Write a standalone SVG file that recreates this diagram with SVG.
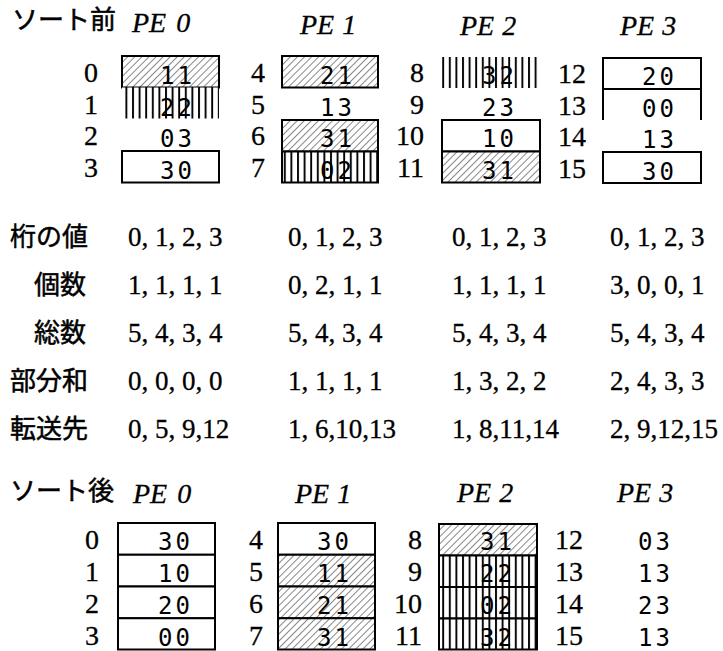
<svg xmlns="http://www.w3.org/2000/svg" width="723" height="651" viewBox="0 0 723 651">
<defs>
<pattern id="diag" width="5" height="5" patternUnits="userSpaceOnUse" patternTransform="rotate(45)">
<rect width="5" height="5" fill="#fff"/>
<line x1="0" y1="0" x2="0" y2="5" stroke="#111" stroke-width="1"/>
</pattern>
<pattern id="vert" width="6.6" height="10" patternUnits="userSpaceOnUse">
<rect width="6.6" height="10" fill="#fff"/>
<line x1="1" y1="0" x2="1" y2="10" stroke="#000" stroke-width="1.9"/>
</pattern>
</defs>
<style>
.jp{font-family:"Noto Sans CJK JP","Noto Sans",sans-serif;font-size:26px;fill:#000;stroke:#000;stroke-width:0.5}
.pe{font-family:"Liberation Serif","Times New Roman",serif;font-style:italic;font-size:28px;fill:#000;stroke:#000;stroke-width:0.3}
.idx{font-family:"Liberation Serif","Times New Roman",serif;font-size:28px;fill:#000;text-anchor:end;stroke:#000;stroke-width:0.3}
.val{font-family:"DejaVu Sans Mono","Liberation Mono",monospace;font-size:24px;letter-spacing:3px;fill:#000;text-anchor:end}
.num{font-family:"Liberation Serif","Times New Roman",serif;font-size:27px;fill:#000;stroke:#000;stroke-width:0.3}
.box{stroke:#000;stroke-width:2}
.white{fill:#fff}
.d{fill:url(#diag)}
.v{fill:url(#vert)}
</style>
<rect width="723" height="651" fill="#fff"/>

<!-- Headers -->
<g id="header-before">
<text class="jp" x="12" y="29" font-size="27">ソート前</text>
<text class="pe" x="132" y="32">PE<tspan dx="10">0</tspan></text>
<text class="pe" x="300" y="34">PE<tspan dx="8">1</tspan></text>
<text class="pe" x="460" y="35">PE<tspan dx="8">2</tspan></text>
<text class="pe" x="620" y="35">PE<tspan dx="8">3</tspan></text>
</g>

<!-- Before: PE0 -->
<g id="before-pe0">
<rect class="box d" x="122" y="56" width="97" height="31.5"/>
<rect class="v" x="122" y="87.5" width="97" height="31"/>
<rect class="box white" x="122" y="151" width="97" height="31.5"/>
<text class="idx" x="98" y="82">0</text>
<text class="idx" x="98" y="113.5">1</text>
<text class="idx" x="98" y="145">2</text>
<text class="idx" x="98" y="176.5">3</text>
<text class="val" x="195" y="84">11</text>
<text class="val" x="195" y="115.5">22</text>
<text class="val" x="195" y="147">03</text>
<text class="val" x="195" y="178.5">30</text>
</g>

<!-- Before: PE1 -->
<g id="before-pe1">
<rect class="box d" x="282" y="56" width="96" height="31.5"/>
<rect class="box d" x="282" y="120" width="96" height="31.5"/>
<rect class="box v" x="282" y="151.5" width="96" height="31"/>
<text class="idx" x="265" y="82">4</text>
<text class="idx" x="265" y="113.5">5</text>
<text class="idx" x="265" y="145">6</text>
<text class="idx" x="265" y="176.5">7</text>
<text class="val" x="355" y="84">21</text>
<text class="val" x="355" y="115.5">13</text>
<text class="val" x="355" y="147">31</text>
<text class="val" x="355" y="178.5">02</text>
</g>

<!-- Before: PE2 -->
<g id="before-pe2">
<rect class="v" x="442" y="57" width="98" height="31"/>
<rect class="box white" x="442" y="120" width="98" height="31.5"/>
<rect class="box d" x="442" y="151.5" width="98" height="31"/>
<text class="idx" x="424" y="82">8</text>
<text class="idx" x="424" y="113.5">9</text>
<text class="idx" x="424" y="145">10</text>
<text class="idx" x="424" y="176.5">11</text>
<text class="val" x="517" y="84">32</text>
<text class="val" x="517" y="115.5">23</text>
<text class="val" x="517" y="147">10</text>
<text class="val" x="517" y="178.5">31</text>
</g>

<!-- Before: PE3 -->
<g id="before-pe3">
<rect class="box white" x="603" y="58" width="98" height="31"/>
<path class="box" d="M603 89 V120 M701 89 V120" fill="none"/>
<rect class="box white" x="603" y="152" width="98" height="31"/>
<text class="idx" x="586" y="83">12</text>
<text class="idx" x="586" y="114.5">13</text>
<text class="idx" x="586" y="146">14</text>
<text class="idx" x="586" y="177.5">15</text>
<text class="val" x="677" y="85">20</text>
<text class="val" x="677" y="116.5">00</text>
<text class="val" x="677" y="148">13</text>
<text class="val" x="677" y="179.5">30</text>
</g>

<!-- Table -->
<g id="table-labels">
<text class="jp" x="10" y="246">桁の値</text>
<text class="jp" x="34" y="294">個数</text>
<text class="jp" x="34" y="342">総数</text>
<text class="jp" x="10" y="390">部分和</text>
<text class="jp" x="10" y="438">転送先</text>
</g>
<g id="table-pe0">
<text class="num" x="128" y="246">0, 1, 2, 3</text>
<text class="num" x="128" y="294">1, 1, 1, 1</text>
<text class="num" x="128" y="342">5, 4, 3, 4</text>
<text class="num" x="128" y="390">0, 0, 0, 0</text>
<text class="num" x="128" y="438">0, 5, 9,12</text>
</g>
<g id="table-pe1">
<text class="num" x="288" y="246">0, 1, 2, 3</text>
<text class="num" x="288" y="294">0, 2, 1, 1</text>
<text class="num" x="288" y="342">5, 4, 3, 4</text>
<text class="num" x="288" y="390">1, 1, 1, 1</text>
<text class="num" x="288" y="438">1, 6,10,13</text>
</g>
<g id="table-pe2">
<text class="num" x="452" y="246">0, 1, 2, 3</text>
<text class="num" x="452" y="294">1, 1, 1, 1</text>
<text class="num" x="452" y="342">5, 4, 3, 4</text>
<text class="num" x="452" y="390">1, 3, 2, 2</text>
<text class="num" x="452" y="438">1, 8,11,14</text>
</g>
<g id="table-pe3">
<text class="num" x="610" y="246">0, 1, 2, 3</text>
<text class="num" x="610" y="294">3, 0, 0, 1</text>
<text class="num" x="610" y="342">5, 4, 3, 4</text>
<text class="num" x="610" y="390">2, 4, 3, 3</text>
<text class="num" x="610" y="438">2, 9,12,15</text>
</g>

<!-- After headers -->
<g id="header-after">
<text class="jp" x="10" y="500" font-size="27">ソート後</text>
<text class="pe" x="133" y="503">PE<tspan dx="10">0</tspan></text>
<text class="pe" x="295" y="503">PE<tspan dx="8">1</tspan></text>
<text class="pe" x="457" y="502">PE<tspan dx="8">2</tspan></text>
<text class="pe" x="617" y="502">PE<tspan dx="8">3</tspan></text>
</g>

<!-- After: PE0 -->
<g id="after-pe0">
<rect class="box white" x="118" y="523" width="97" height="31.75"/>
<rect class="box white" x="118" y="554.75" width="97" height="31.75"/>
<rect class="box white" x="118" y="586.5" width="97" height="31.75"/>
<rect class="box white" x="118" y="618.25" width="97" height="31.25"/>
<text class="idx" x="99" y="549">0</text>
<text class="idx" x="99" y="581">1</text>
<text class="idx" x="99" y="613">2</text>
<text class="idx" x="99" y="644.5">3</text>
<text class="val" x="193" y="550">30</text>
<text class="val" x="193" y="582">10</text>
<text class="val" x="193" y="614">20</text>
<text class="val" x="193" y="645.5">00</text>
</g>

<!-- After: PE1 -->
<g id="after-pe1">
<rect class="box white" x="278" y="523" width="97" height="31.75"/>
<rect class="box d" x="278" y="554.75" width="97" height="31.75"/>
<rect class="box d" x="278" y="586.5" width="97" height="31.75"/>
<rect class="box d" x="278" y="618.25" width="97" height="31.25"/>
<text class="idx" x="263" y="549">4</text>
<text class="idx" x="263" y="581">5</text>
<text class="idx" x="263" y="613">6</text>
<text class="idx" x="263" y="644.5">7</text>
<text class="val" x="352" y="550">30</text>
<text class="val" x="352" y="582">11</text>
<text class="val" x="352" y="614">21</text>
<text class="val" x="352" y="645.5">31</text>
</g>

<!-- After: PE2 -->
<g id="after-pe2">
<rect class="box d" x="439" y="524" width="98" height="31.5"/>
<rect class="box v" x="439" y="555.5" width="98" height="31.5"/>
<rect class="box v" x="439" y="587" width="98" height="31.5"/>
<rect class="box v" x="439" y="618.5" width="98" height="31"/>
<text class="idx" x="422" y="549">8</text>
<text class="idx" x="422" y="581">9</text>
<text class="idx" x="422" y="613">10</text>
<text class="idx" x="422" y="644.5">11</text>
<text class="val" x="515" y="550">31</text>
<text class="val" x="515" y="582">22</text>
<text class="val" x="515" y="614">02</text>
<text class="val" x="515" y="645.5">32</text>
</g>

<!-- After: PE3 -->
<g id="after-pe3">
<text class="idx" x="583" y="549">12</text>
<text class="idx" x="583" y="581">13</text>
<text class="idx" x="583" y="613">14</text>
<text class="idx" x="583" y="644.5">15</text>
<text class="val" x="673" y="550">03</text>
<text class="val" x="673" y="582">13</text>
<text class="val" x="673" y="614">23</text>
<text class="val" x="673" y="645.5">13</text>
</g>
</svg>
